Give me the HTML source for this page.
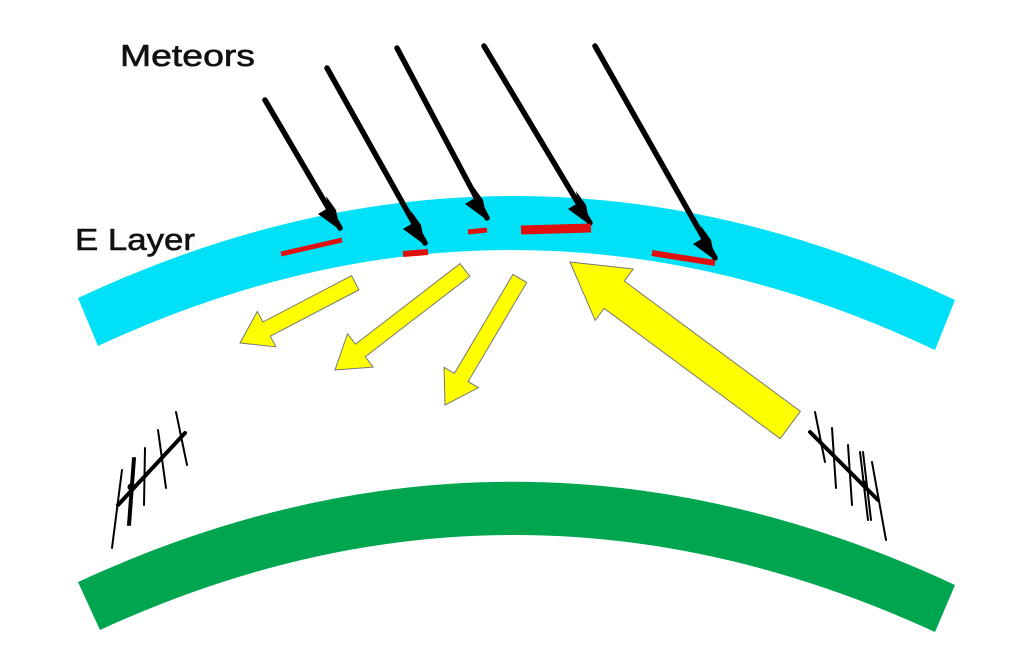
<!DOCTYPE html>
<html><head><style>html,body{margin:0;padding:0;background:#fff}svg{display:block}</style></head>
<body>
<svg width="1035" height="653" viewBox="0 0 1035 653" xmlns="http://www.w3.org/2000/svg">
<path d="M78,298 Q515,93 955,300 L935,350 Q515,152 98,346 Z" fill="#00e1f7"/>
<path d="M78,582 Q515,380 955,585 L935,632 Q515,439 100,630 Z" fill="#00a550"/>
<g stroke="#000" stroke-width="5.5" stroke-linecap="round">
<line x1="265" y1="100" x2="340" y2="228"/>
<line x1="327" y1="68" x2="425" y2="243"/>
<line x1="397" y1="48" x2="487" y2="218"/>
<line x1="484" y1="46" x2="590" y2="223"/>
<line x1="595" y1="46" x2="715" y2="258"/>
</g>
<g fill="#000">
<polygon points="340,230 318,214 328,208 326,196 336,210"/>
<polygon points="425,245 403,229 413,223 411,211 421,225"/>
<polygon points="487,220 465,204 475,198 473,186 483,200"/>
<polygon points="590,225 568,209 578,203 576,191 586,205"/>
<polygon points="715,260 693,244 703,238 701,226 711,240"/>
</g>
<g stroke="#e01010" stroke-linecap="butt">
<line x1="281" y1="254" x2="342" y2="240" stroke-width="5"/>
<line x1="403" y1="254" x2="428" y2="252" stroke-width="6"/>
<line x1="468" y1="232" x2="487" y2="230" stroke-width="5"/>
<line x1="521" y1="230" x2="591" y2="228" stroke-width="9"/>
<line x1="652" y1="253" x2="715" y2="263" stroke-width="6"/>
</g>
<g fill="#ffff00" stroke="#777" stroke-width="1">
<polygon transform="translate(240,343) rotate(152.4)" points="0,0 -30,-20 -30,-8 -130,-8 -130,8 -30,8 -30,20"/>
<polygon transform="translate(335,370) rotate(142.4)" points="0,0 -32,-21 -32,-8 -164,-8 -164,8 -32,8 -32,21"/>
<polygon transform="translate(445,405) rotate(120.6)" points="0,0 -32,-20 -32,-8 -147,-8 -147,8 -32,8 -32,20"/>
<polygon transform="translate(570,262) rotate(-143.5)" points="0,0 -55,-32 -55,-17 -274,-17 -274,17 -55,17 -55,32"/>
</g>
<g stroke="#000" fill="none" stroke-linecap="round">
<line x1="118" y1="505" x2="185" y2="433" stroke-width="4"/>
<line x1="122" y1="470" x2="112" y2="548" stroke-width="2"/>
<path d="M133,458 L128,525 M135,458 L130,525" stroke-width="2"/>
<line x1="145" y1="448" x2="144" y2="505" stroke-width="2"/>
<line x1="158" y1="430" x2="166" y2="488" stroke-width="2"/>
<line x1="176" y1="412" x2="187" y2="465" stroke-width="2"/>
<circle cx="131" cy="487" r="3" fill="#000"/>
<line x1="810" y1="432" x2="878" y2="500" stroke-width="4"/>
<line x1="815" y1="412" x2="825" y2="462" stroke-width="2"/>
<line x1="832" y1="428" x2="836" y2="488" stroke-width="2"/>
<line x1="848" y1="445" x2="852" y2="505" stroke-width="2"/>
<path d="M860,452 L868,520 M863,452 L871,520" stroke-width="2"/>
<line x1="872" y1="462" x2="886" y2="540" stroke-width="2"/>
<circle cx="864" cy="484" r="3" fill="#000"/>
</g>
<text x="120" y="66" font-family="Liberation Sans, sans-serif" font-size="31" textLength="135" lengthAdjust="spacingAndGlyphs" fill="#111" stroke="#111" stroke-width="0.6">Meteors</text>
<text x="75" y="250" font-family="Liberation Sans, sans-serif" font-size="31" textLength="120" lengthAdjust="spacingAndGlyphs" fill="#111" stroke="#111" stroke-width="0.6">E Layer</text>
</svg>
</body></html>
